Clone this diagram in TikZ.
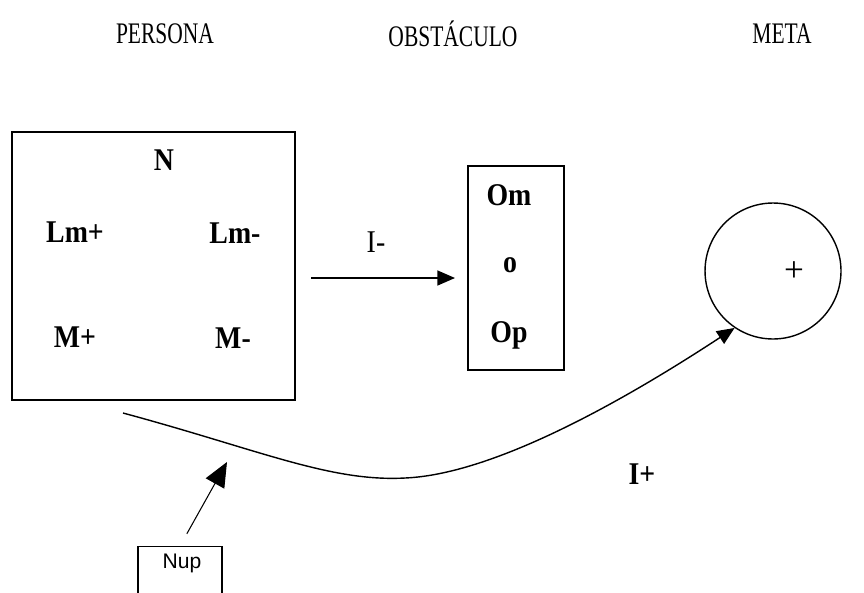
\documentclass[tikz,border=0pt]{standalone}
\usepackage{fontspec}
\setmainfont{Liberation Serif}
\setsansfont{Liberation Sans}
\newfontfamily\headfont[FakeStretch=0.72]{Liberation Serif}
\newfontfamily\lblfont[FakeStretch=0.88]{Liberation Serif}
\usetikzlibrary{arrows.meta, positioning, calc}

\begin{document}
\begin{tikzpicture}[
    x=0.02cm, y=-0.02cm,
    header/.style={font=\headfont\fontsize{17}{20}\selectfont},
    lbl/.style={font=\lblfont\fontsize{18}{21}\selectfont\bfseries, inner sep=0pt},
    frame/.style={draw, line width=0.8pt, inner sep=0pt},
    flow/.style={-{Triangle[length=10pt, width=8.5pt]}, line width=0.8pt},
    bigflow/.style={-{Triangle[length=14pt, width=12pt]}, line width=0.6pt},
]
\clip (0,0) rectangle (864,592);
\fill[white] (0,0) rectangle (864,592);

% ============ cabeceras ============
\node[header] (hpersona) at (165,34)  {PERSONA};
\node[header] (hobst)    at (453,34)  {OBSTÁCULO};
\node[header] (hmeta)    at (782,34)  {META};

% ============ persona ============
\node[frame, minimum width=5.66cm, minimum height=5.36cm] (persona) at (153.5,266) {};
\node[lbl] (n)      at (164,160) {N};
\node[lbl] (lmplus) at (75,232)  {Lm+};
\node[lbl] (lmminus) at (235,233) {Lm-};
\node[lbl] (mplus)  at (75,337)  {M+};
\node[lbl] (mminus) at (233,338) {M-};

% ============ obstáculo ============
\node[frame, minimum width=1.92cm, minimum height=4.08cm] (obst) at (516,268) {};
\node[lbl] (om) at (509,195) {Om};
\node[lbl] (o)  at (510,265) {o};
\node[lbl] (op) at (509,335) {Op};

\coordinate (iminusa) at (311,278);
\coordinate (iminusb) at (455,278);
\draw[flow] (iminusa) -- (iminusb);
\node[lbl, font=\lblfont\fontsize{18}{21}\selectfont] (iminus) at (376,242) {I-};

% ============ meta ============
\node[draw, circle, line width=0.8pt, minimum size=2.72cm] (goal) at (773,271) {};
\node[font=\fontsize{20}{24}\selectfont, inner sep=0pt] (gplus) at (794,272) {+};

\coordinate (curvea) at (123,413);
\draw[flow] (curvea) .. controls (260,450) and (330,482) .. (405,478)
    .. controls (500,474) and (640,390) .. (goal.236);
\node[lbl] (iplus) at (642,474) {I+};

% ============ Nup ============
\node[frame, minimum width=1.68cm, minimum height=1.4cm, anchor=north] (nup) at (180,546) {};
\node[font=\sffamily\fontsize{12}{14}\selectfont, inner sep=0pt] (nuptext) at (182,563) {Nup};
\coordinate (nuptip) at (227,462);
\draw[bigflow, shorten <=0.28cm] (nup.north) -- (nuptip);

\end{tikzpicture}
\end{document}
